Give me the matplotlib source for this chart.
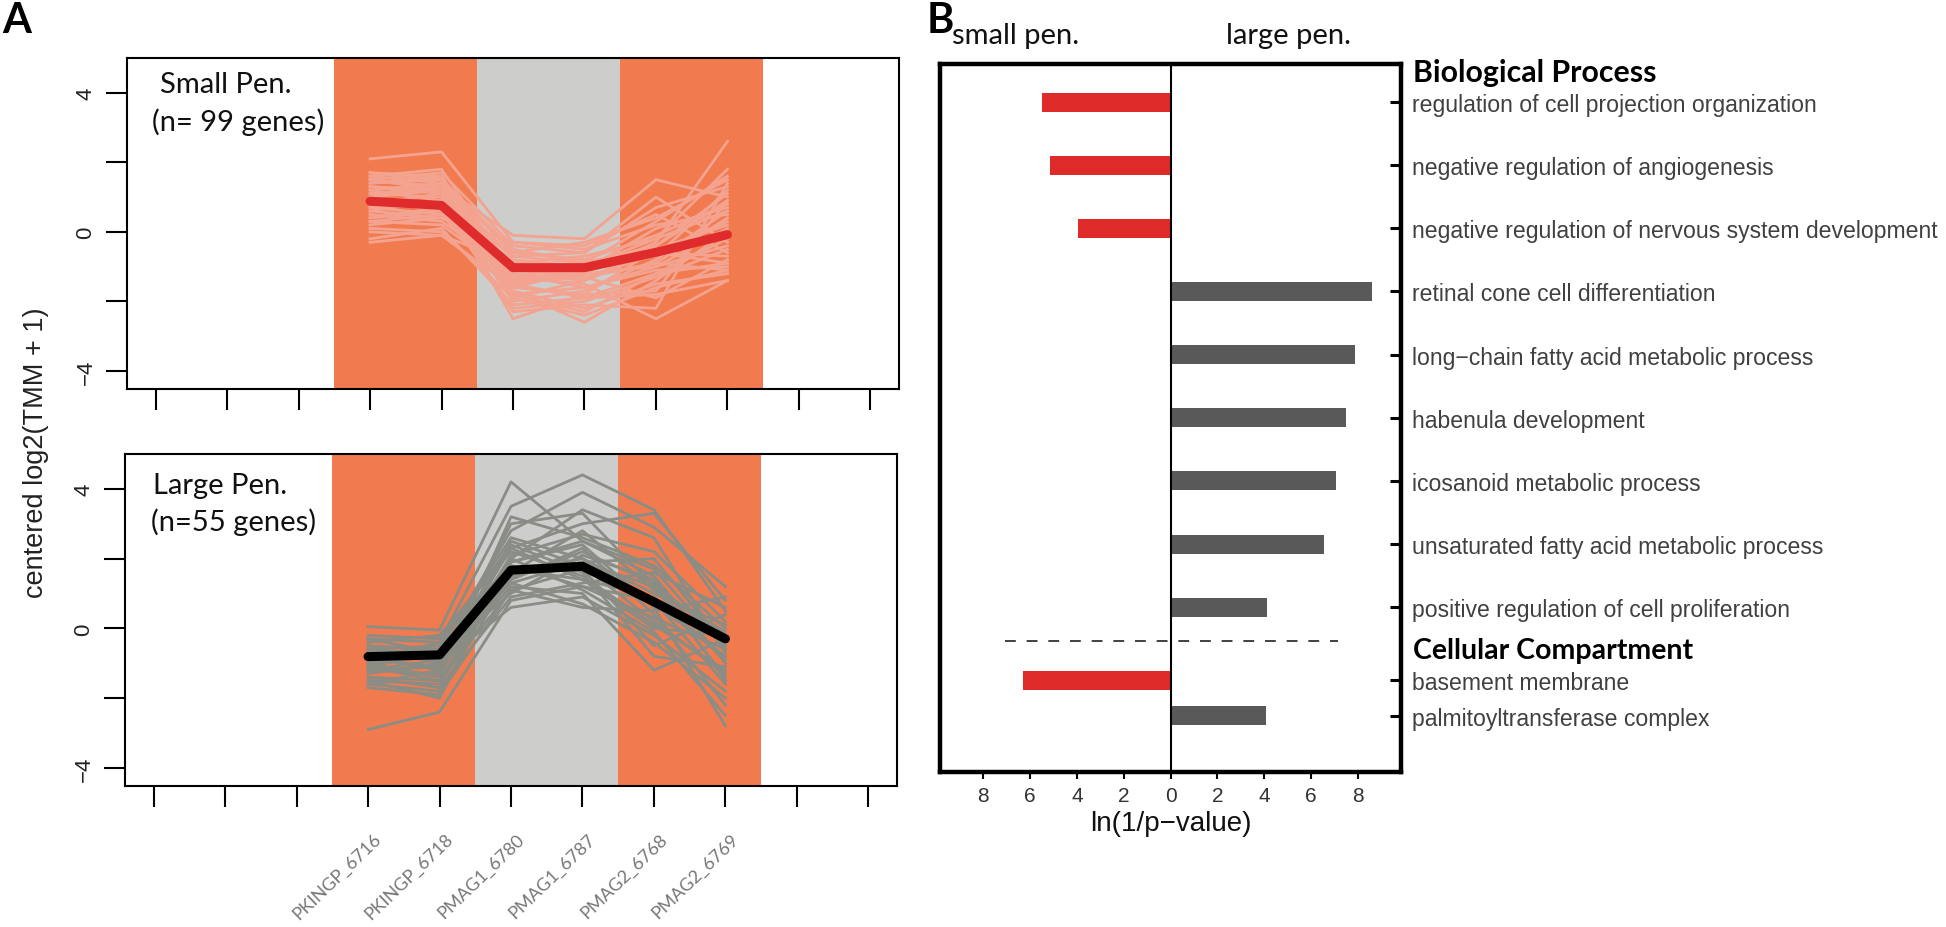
import matplotlib
matplotlib.use("Agg")
import matplotlib.pyplot as plt
from matplotlib.transforms import ScaledTranslation

plt.rcParams['font.family'] = ['Liberation Sans', 'DejaVu Sans']

# ---- data ----
samples = ["PKINGP_6716", "PKINGP_6718", "PMAG1_6780", "PMAG1_6787", "PMAG2_6768", "PMAG2_6769"]
sample_pos = [4, 5, 6, 7, 8, 9]

small_pen_mean = [0.88, 0.76, -1.03, -1.03, -0.59, -0.08]
large_pen_mean = [-0.81, -0.76, 1.67, 1.78, 0.76, -0.30]

small_pen_genes = [
    [2.1, 2.3, -0.3, -0.5, 0.2, 0.5],
    [1.7, 1.5, -0.5, -0.9, -0.4, 0.9],
    [1.6, 1.8, -1.2, -1.4, -0.6, 0.3],
    [1.5, 1.3, -0.1, -0.2, 1.5, 1.0],
    [1.4, 1.6, -1.8, -1.6, -1.0, 0.1],
    [1.3, 1.2, -0.7, -0.6, 0.7, 1.3],
    [1.2, 1.4, -1.5, -1.9, -1.2, -0.2],
    [1.1, 1.0, -2.0, -1.7, -0.8, 0.6],
    [1.0, 1.2, -1.0, -1.2, -0.3, 2.6],
    [0.9, 0.6, -1.4, -1.3, -1.9, -0.8],
    [0.8, 1.1, -2.5, -1.8, -0.5, 0.2],
    [0.7, 0.5, -0.8, -1.0, -0.2, 1.8],
    [0.6, 0.9, -1.7, -2.2, -1.5, -1.2],
    [0.5, 0.3, -1.1, -0.9, 0.3, 1.6],
    [0.4, 0.7, -2.2, -2.0, -1.3, -0.5],
    [0.3, 0.2, -1.3, -1.5, -2.5, -1.4],
    [0.2, 0.4, -0.6, -0.8, -0.1, 0.8],
    [0.1, 0.0, -1.9, -2.4, -1.6, -1.1],
    [0.0, -0.1, -1.6, -1.1, -0.7, 1.2],
    [-0.2, 0.1, -2.1, -1.9, -1.8, -1.4],
    [-0.3, -0.1, -0.9, -1.3, -0.9, 0.4],
    [1.7, 1.6, -1.3, -1.0, -0.6, -0.9],
    [1.5, 1.7, -0.4, -0.6, 1.0, -0.3],
    [0.9, 0.8, -2.3, -2.1, -2.2, 1.4],
    [1.3, 1.1, -1.7, -2.6, -1.4, 0.0],
    [0.6, 0.4, -0.3, -0.4, 0.5, -0.6],
    [1.0, 1.3, -1.9, -1.4, -0.4, 1.1],
    [0.4, 0.6, -1.2, -1.6, -1.1, -1.0],
    [1.2, 0.9, -0.9, -0.7, -0.2, 0.6],
    [0.8, 0.7, -1.5, -1.2, -1.0, -0.4],
    [1.6, 1.4, -0.6, -0.3, 0.4, 1.5],
    [1.4, 1.5, -1.1, -1.3, -0.9, -1.1],
    [1.1, 1.3, -1.6, -1.8, -1.7, 0.9],
    [0.7, 0.8, -0.7, -0.9, -0.6, -0.7],
    [1.5, 1.2, -1.4, -1.1, 0.1, 0.7],
    [0.3, 0.5, -1.8, -2.3, -1.2, -0.9],
]

large_pen_genes = [
    [-2.9, -2.4, 0.8, 1.2, 0.3, -0.6],
    [0.05, -0.05, 4.2, 2.5, 1.5, -1.0],
    [-0.3, -0.4, 3.5, 4.4, 3.4, 0.5],
    [-0.5, -0.6, 2.8, 3.9, 2.9, 1.2],
    [-0.7, -0.9, 3.0, 3.3, 1.2, -0.2],
    [-1.0, -0.8, 2.3, 3.0, 3.3, 0.8],
    [-1.2, -1.3, 2.1, 2.7, 2.2, 0.2],
    [-1.4, -1.5, 1.9, 2.4, 0.6, -2.8],
    [-1.6, -1.8, 1.5, 1.9, 2.0, -0.5],
    [-0.4, -0.2, 2.2, 1.5, 0.1, -1.2],
    [-0.9, -1.1, 1.2, 1.0, -1.2, -0.3],
    [-1.1, -0.7, 1.0, 2.1, 1.4, -1.5],
    [-1.3, -1.0, 0.6, 0.9, -0.2, -1.8],
    [-1.5, -1.6, 1.7, 1.4, 0.9, -0.9],
    [-0.6, -0.5, 2.6, 2.0, 1.0, 0.1],
    [-0.8, -1.2, 1.4, 2.3, 0.4, -2.2],
    [-1.7, -1.9, 1.1, 1.7, -0.5, 0.4],
    [-0.2, -0.3, 1.8, 1.2, 0.8, -1.6],
    [-1.0, -1.4, 3.2, 2.6, 1.8, 0.0],
    [-1.2, -0.9, 2.0, 3.4, 2.6, -0.7],
    [-0.7, -0.6, 1.3, 0.7, -0.4, -2.0],
    [-1.4, -1.7, 0.9, 1.3, 1.6, 0.6],
    [-0.5, -1.0, 2.5, 1.8, 0.2, -1.3],
    [-1.6, -1.2, 1.6, 2.8, 1.1, -0.1],
    [-0.9, -0.4, 2.4, 1.6, -0.8, -1.1],
    [-1.1, -1.5, 1.1, 0.6, 0.5, 0.9],
    [-0.3, -0.7, 1.4, 2.2, 1.3, -0.4],
    [-1.5, -2.0, 2.0, 1.1, -0.1, -2.5],
    [-0.8, -0.9, 1.6, 2.0, 0.7, -0.8],
    [-1.2, -1.1, 2.3, 1.4, 0.0, -0.2],
    [-0.6, -0.8, 1.3, 1.9, 1.2, -1.4],
    [-1.0, -0.6, 1.9, 2.5, 1.7, -0.6],
]

go_terms = ["regulation of cell projection organization",
            "negative regulation of angiogenesis",
            "negative regulation of nervous system development",
            "retinal cone cell differentiation",
            "long\u2212chain fatty acid metabolic process",
            "habenula development",
            "icosanoid metabolic process",
            "unsaturated fatty acid metabolic process",
            "positive regulation of cell proliferation",
            "basement membrane",
            "palmitoyltransferase complex"]
go_group = ["small", "small", "small", "large", "large", "large", "large", "large", "large",
            "small", "large"]
go_score = [5.51, 5.15, 3.94, 8.61, 7.89, 7.50, 7.06, 6.57, 4.11, 6.31, 4.09]
go_rows = [1, 2, 3, 4, 5, 6, 7, 8, 9, 10.16, 10.72]

# ---- layout helpers ----
W, H = 1946, 928
fig = plt.figure(figsize=(W / 100, H / 100), dpi=100)


def rect(l, t, r, b):
    return [l / W, 1 - b / H, (r - l) / W, (b - t) / H]


ORANGE = "#F17B4F"
GREY_BG = "#CDCDCB"
soft_font = ['Lato', 'DejaVu Sans']


def panel_a(ax, genes, mean, gene_col, mean_col, title, subtitle, txt_pos):
    ax.axvspan(3.5, 5.5, color=ORANGE, lw=0)
    ax.axvspan(5.5, 7.5, color=GREY_BG, lw=0)
    ax.axvspan(7.5, 9.5, color=ORANGE, lw=0)
    for g in genes:
        ax.plot(sample_pos, g, color=gene_col, lw=2.0)
    ax.plot(sample_pos, mean, color=mean_col, lw=6.5, solid_capstyle='round',
            solid_joinstyle='round')
    ax.set_xlim(0.6, 11.4)
    ax.set_ylim(-4.52, 5.0)
    ax.set_xticks(range(1, 12))
    ax.set_xticklabels([])
    ax.set_yticks([-4, -2, 0, 2, 4])
    ax.set_yticklabels(["\u22124", "", "0", "", "4"], rotation=90, va='center',
                       fontsize=16, color="#222222")
    ax.tick_params(axis='both', direction='out', length=15, width=1.5, pad=7)
    for s in ax.spines.values():
        s.set_linewidth(1.5)
    (x1, y1), (x2, y2) = txt_pos
    ax.text(x1, y1, title, transform=ax.transAxes, fontsize=21,
            family=soft_font, va='baseline', ha='left', color="#111111")
    ax.text(x2, y2, subtitle, transform=ax.transAxes, fontsize=21,
            family=soft_font, va='baseline', ha='left', color="#111111")


ax1 = fig.add_axes(rect(127, 59, 899, 390))
panel_a(ax1, small_pen_genes, small_pen_mean, "#F4A391", "#DF2B2B",
        "Small Pen.", "(n= 99 genes)", [(0.043, 0.897), (0.033, 0.783)])

ax2 = fig.add_axes(rect(125, 455, 897, 787))
panel_a(ax2, large_pen_genes, large_pen_mean, "#8A8D85", "#000000",
        "Large Pen.", "(n=55 genes)", [(0.036, 0.882), (0.034, 0.771)])

off = ScaledTranslation(5 / 100, -44 / 100, fig.dpi_scale_trans)
for p, s in zip(sample_pos, samples):
    ax2.text(p, 0, s, transform=ax2.get_xaxis_transform() + off, rotation=44,
             rotation_mode='anchor', ha='right', va='top', fontsize=13,
             family=soft_font, color="#777777")

fig.text(36 / W, 1 - 453 / H, "centered log2(TMM + 1)", rotation=90,
         ha='center', va='center', fontsize=19.5, color="#222222")

# ---- panel B ----
axb = fig.add_axes(rect(940, 65, 1401, 773))
signed = [-v if g == "small" else v for v, g in zip(go_score, go_group)]
cols = ["#DF2A2A" if g == "small" else "#595959" for g in go_group]
axb.barh(go_rows, signed, height=0.30, color=cols, lw=0)
axb.axvline(0, color='black', lw=1.5)
axb.plot([-7.09, 7.15], [9.53, 9.53], color="#333333", lw=1.3, dashes=(6, 6))
axb.set_xlim(-9.85, 9.85)
axb.set_ylim(11.61, 0.397)
axb.set_xticks(range(-8, 9, 2))
axb.set_xticklabels([str(abs(v)) for v in range(-8, 9, 2)], fontsize=15, color="#333333")
axb.yaxis.tick_right()
axb.set_yticks(go_rows)
axb.set_yticklabels(go_terms, fontsize=16.6, color="#404040")
axb.tick_params(axis='y', direction='in', length=8, width=2.2, pad=8)
axb.tick_params(axis='x', direction='out', length=5, width=1.5, pad=5)
for s in axb.spines.values():
    s.set_linewidth(3.2)
axb.set_xlabel("ln(1/p\u2212value)", fontsize=20, color="#111111", labelpad=4)

axb.text(1.026, 0.52, "Biological Process", transform=axb.get_yaxis_transform(),
         fontsize=21.8, fontweight='bold', family=soft_font, va='center')
axb.text(1.026, 9.67, "Cellular Compartment", transform=axb.get_yaxis_transform(),
         fontsize=20.5, fontweight='bold', family=soft_font, va='center')

fig.text(1016 / W, 1 - 36 / H, "small pen.", ha='center', va='center', fontsize=21,
         family=soft_font, color="#111111")
fig.text(1288 / W, 1 - 36 / H, "large pen.", ha='center', va='center', fontsize=21,
         family=soft_font, color="#111111")

fig.text(2 / W, 1 - 33 / H, "A", ha='left', va='baseline', fontsize=30, fontweight='bold',
         family=soft_font)
fig.text(927 / W, 1 - 33 / H, "B", ha='left', va='baseline', fontsize=30, fontweight='bold',
         family=soft_font)

fig.savefig("out.png", dpi=100)
